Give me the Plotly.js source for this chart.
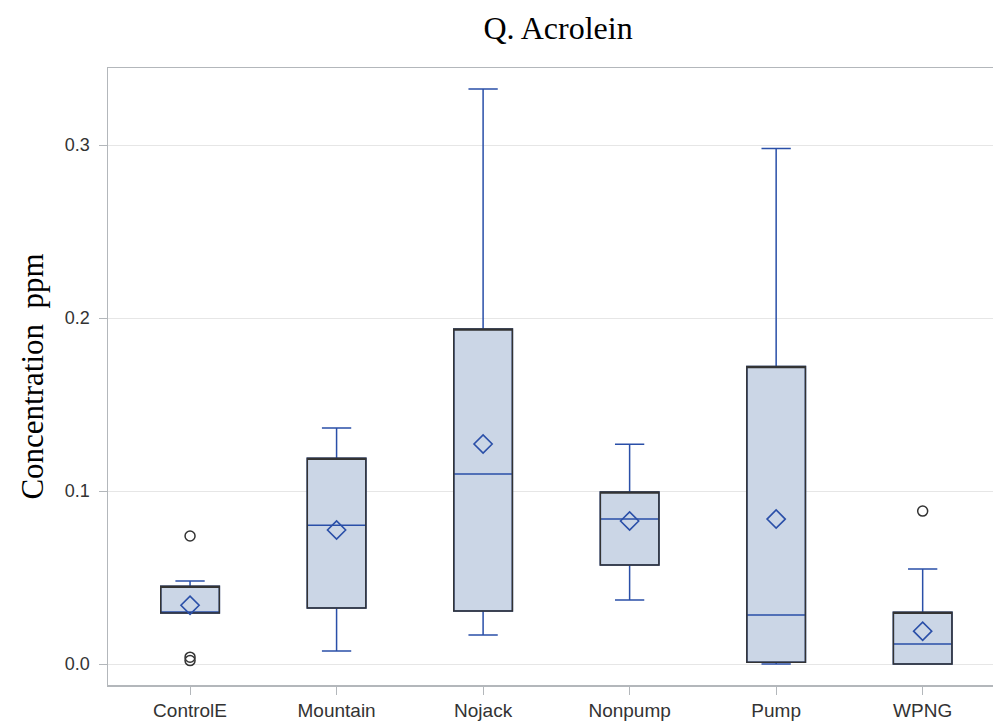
<!DOCTYPE html>
<html>
<head>
<meta charset="utf-8">
<script src="https://cdn.plot.ly/plotly-3.0.1.min.js"></script>
<style>html,body{margin:0;padding:0;background:#fff;}#chart{width:993px;height:725px;}</style>
</head>
<body>
<div id="chart"></div>
<script>
const categories = ["ControlE", "Mountain", "Nojack", "Nonpump", "Pump", "WPNG"];
const q1Vals     = [0.0295, 0.0324, 0.0306, 0.0572, 0.0010, 0.0000];
const medianVals = [0.0300, 0.0803, 0.1098, 0.0838, 0.0283, 0.0116];
const q3Vals     = [0.0450, 0.1190, 0.1936, 0.0994, 0.1720, 0.0300];
const lowWhisker = [0.0295, 0.0075, 0.0168, 0.0370, 0.0000, 0.0000];
const upWhisker  = [0.0480, 0.1364, 0.3324, 0.1270, 0.2980, 0.0550];
const meanVals   = [0.0340, 0.0775, 0.1272, 0.0827, 0.0838, 0.0190];
const outlierCats = ["ControlE", "ControlE", "ControlE", "WPNG"];
const outlierVals = [0.0740, 0.0040, 0.0020, 0.0884];
const yTickVals = [0.0, 0.1, 0.2, 0.3];

const blue = "#2a4fa8";
const dark = "#333333";

const traces = [
  {
    type: "box", x: categories, q1: q1Vals, median: medianVals, q3: q3Vals,
    lowerfence: lowWhisker, upperfence: upWhisker,
    width: 0.4, whiskerwidth: 0.5, boxpoints: false,
    fillcolor: "#cbd6e6", line: {color: blue, width: 1.5},
    hoverinfo: "skip", showlegend: false
  },
  {
    type: "box", x: categories, q1: q1Vals, median: q3Vals, q3: q3Vals,
    lowerfence: q1Vals, upperfence: q3Vals,
    width: 0.4, whiskerwidth: 0, boxpoints: false,
    fillcolor: "rgba(0,0,0,0)", line: {color: dark, width: 1.5},
    hoverinfo: "skip", showlegend: false
  },
  {
    type: "scatter", mode: "markers", x: categories, y: meanVals,
    marker: {symbol: "diamond-open", size: 14, color: blue, line: {width: 1.6, color: blue}},
    hoverinfo: "skip", showlegend: false
  },
  {
    type: "scatter", mode: "markers", x: outlierCats, y: outlierVals,
    marker: {symbol: "circle-open", size: 10, color: dark, line: {width: 1.5, color: dark}},
    hoverinfo: "skip", showlegend: false
  }
];

const layout = {
  width: 993, height: 725,
  margin: {l: 108, r: 0, t: 68, b: 40},
  paper_bgcolor: "#ffffff", plot_bgcolor: "#ffffff",
  boxmode: "overlay",
  title: {
    text: "Q. Acrolein", x: 0.562, xanchor: "center", y: 0.962, yanchor: "middle",
    font: {family: "Liberation Serif, Times New Roman, serif", size: 32, color: "#000"}
  },
  xaxis: {
    type: "category", range: [-0.56, 5.48],
    showline: true, linecolor: "#b3b7bb", linewidth: 1.5, mirror: true,
    ticks: "outside", ticklen: 8, tickcolor: "#b3b7bb", tickwidth: 1,
    showgrid: false, zeroline: false,
    tickfont: {family: "Liberation Sans, Arial, sans-serif", size: 19, color: "#333"}
  },
  yaxis: {
    range: [-0.0121, 0.3445],
    tickvals: yTickVals, tickformat: ".1f",
    showline: true, linecolor: "#b3b7bb", linewidth: 1.5,
    ticks: "outside", ticklen: 8, tickcolor: "#b3b7bb", tickwidth: 1,
    ticklabelstandoff: 5,
    showgrid: true, gridcolor: "#e6e6e6", gridwidth: 1, zeroline: false,
    tickfont: {family: "Liberation Sans, Arial, sans-serif", size: 18, color: "#333"},
    title: {
      text: "Concentration  ppm", standoff: 12,
      font: {family: "Liberation Serif, Times New Roman, serif", size: 31, color: "#000"}
    }
  }
};

Plotly.newPlot("chart", traces, layout, {displayModeBar: false, staticPlot: true});
</script>
</body>
</html>
